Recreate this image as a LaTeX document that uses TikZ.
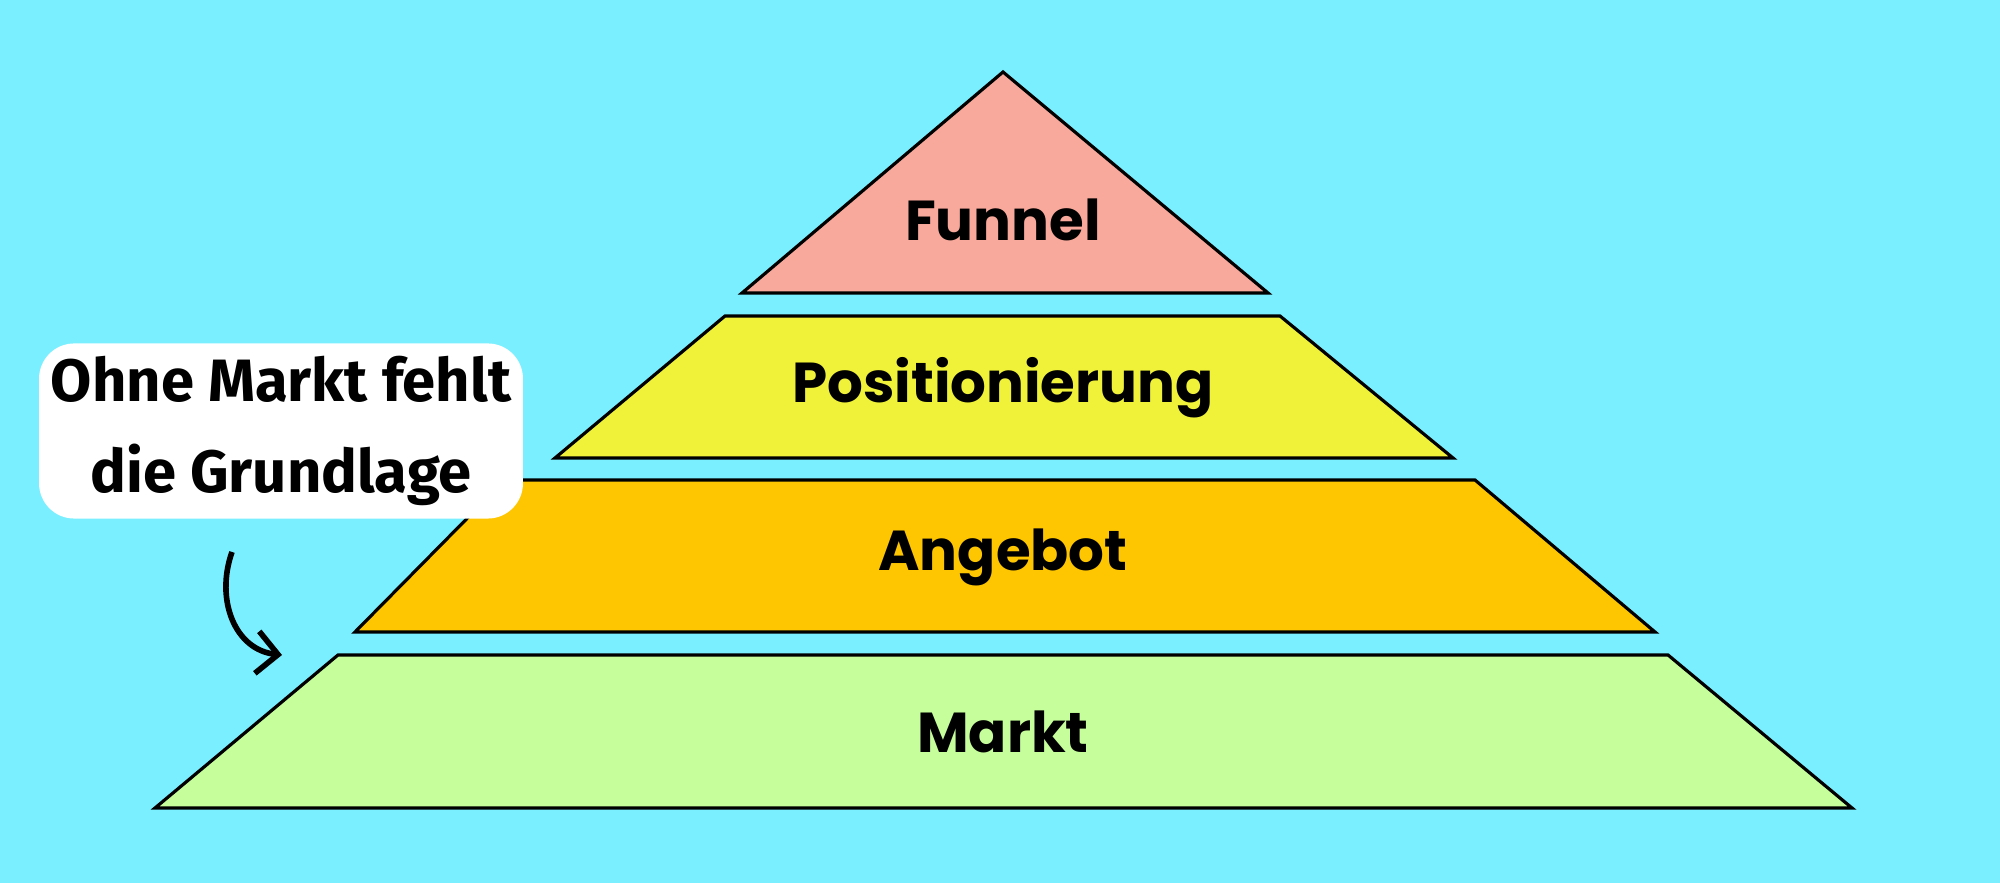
\documentclass[tikz,border=0pt]{standalone}
\usepackage{fontspec}
\setmainfont{Poppins}
\newfontfamily\notefont{Fira Sans}
\usetikzlibrary{arrows.meta}

\definecolor{bgcyan}{HTML}{7AEFFF}
\definecolor{funnelred}{HTML}{F9A99B}
\definecolor{posyellow}{HTML}{F0F23A}
\definecolor{offerorange}{HTML}{FEC601}
\definecolor{marketgreen}{HTML}{C5FE9A}

\tikzset{
  layer/.style={draw=black, line width=0.9pt},
  lbl/.style={font=\fontsize{16}{18}\selectfont\bfseries},
}

\begin{document}
\begin{tikzpicture}[x=0.01cm,y=-0.01cm]

\fill[bgcyan] (0,0) rectangle (2000,883);

\draw[layer, fill=funnelred] (1003,72) -- (1268,293) -- (742,293) -- cycle;
\draw[layer, fill=posyellow] (725,316) -- (1280,316) -- (1453,458) -- (555,458) -- cycle;
\draw[layer, fill=offerorange] (505,480) -- (1475,480) -- (1655,632) -- (355,632) -- cycle;
\draw[layer, fill=marketgreen] (338,655) -- (1668,655) -- (1852,808) -- (155,808) -- cycle;

\node[lbl] (funnel) at (1003,220) {Funnel};
\node[lbl] (pos) at (1003,388) {Positionierung};
\node[lbl] (offer) at (1003,557) {Angebot};
\node[lbl] (market) at (1003,732) {Markt};

\node[fill=white, rounded corners=10pt, minimum width=4.52cm, minimum height=1.75cm,
  align=center, font=\notefont\fontsize{17}{26}\selectfont\bfseries] (note) at (281,431)
  {Ohne Markt fehlt\\die Grundlage};

\coordinate (tip) at (282,655);
\draw[line width=1.6pt, -{Straight Barb[length=6pt]}] (232,552) .. controls (215,600) and (235,650) .. (tip);

\end{tikzpicture}
\end{document}
